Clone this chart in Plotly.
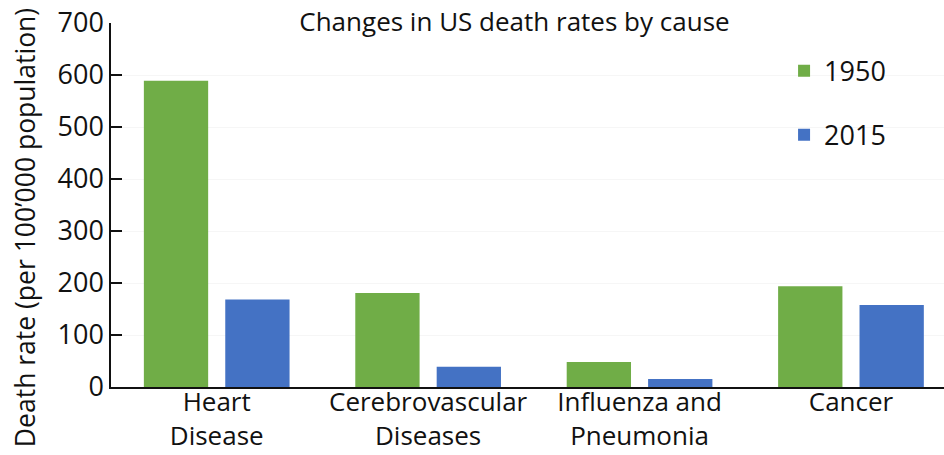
import plotly.graph_objects as go

# Age-adjusted death rates per 100'000 population
causes = ["Heart<br>Disease", "Cerebrovascular<br>Diseases", "Influenza and<br>Pneumonia", "Cancer"]
rates_1950 = [588.8, 180.7, 48.1, 193.9]
rates_2015 = [168.5, 39.0, 15.2, 157.8]
series_names = ["1950", "2015"]
series_colors = ["#70AD47", "#4472C4"]
y_title = "Death rate (per 100’000 population)"

FONT = "Open Sans"

fig = go.Figure()
for name, vals, color in zip(series_names, [rates_1950, rates_2015], series_colors):
    fig.add_trace(go.Bar(
        x=causes, y=vals, name=name, legendgroup=name,
        marker=dict(color=color, line=dict(width=0)),
    ))

fig.update_layout(
    width=944, height=455,
    margin=dict(l=111, r=0, t=23, b=68),
    paper_bgcolor="white", plot_bgcolor="white",
    font=dict(family=FONT, size=27, color="#111111"),
    barmode="group", bargap=0.23, bargroupgap=0.21,
    title=dict(text="Changes in US death rates by cause", x=0.545, xanchor="center",
               y=0.952, yanchor="middle", font=dict(size=26, family=FONT, color="#111111")),
    legend=dict(x=0.808, y=0.935, xanchor="left", yanchor="top",
                tracegroupgap=26, bgcolor="rgba(0,0,0,0)",
                font=dict(size=27, family=FONT, color="#111111")),
    showlegend=True,
)
# Vertical axis title placed as a rotated annotation so it can use the full height
fig.add_annotation(
    text=y_title, textangle=-90, showarrow=False,
    xref="paper", yref="paper", x=-0.103, y=0.437,
    xanchor="center", yanchor="middle",
    font=dict(size=26.5, family=FONT, color="#111111"),
)
fig.update_xaxes(
    range=[-0.5, 3.44], showline=True, linecolor="#111111", linewidth=1.5,
    ticks="", tickfont=dict(size=26), showgrid=False, automargin=False,
    ticklabelstandoff=-9,
)
fig.update_yaxes(
    range=[0, 700], dtick=100, showline=True, linecolor="#111111", linewidth=1.5,
    ticks="inside", ticklen=11, tickwidth=1.5, tickcolor="#111111",
    showgrid=True, gridcolor="#f6f6f6", gridwidth=1, zeroline=False,
    tickfont=dict(size=27), automargin=False,
)

fig.write_html("out.html")
